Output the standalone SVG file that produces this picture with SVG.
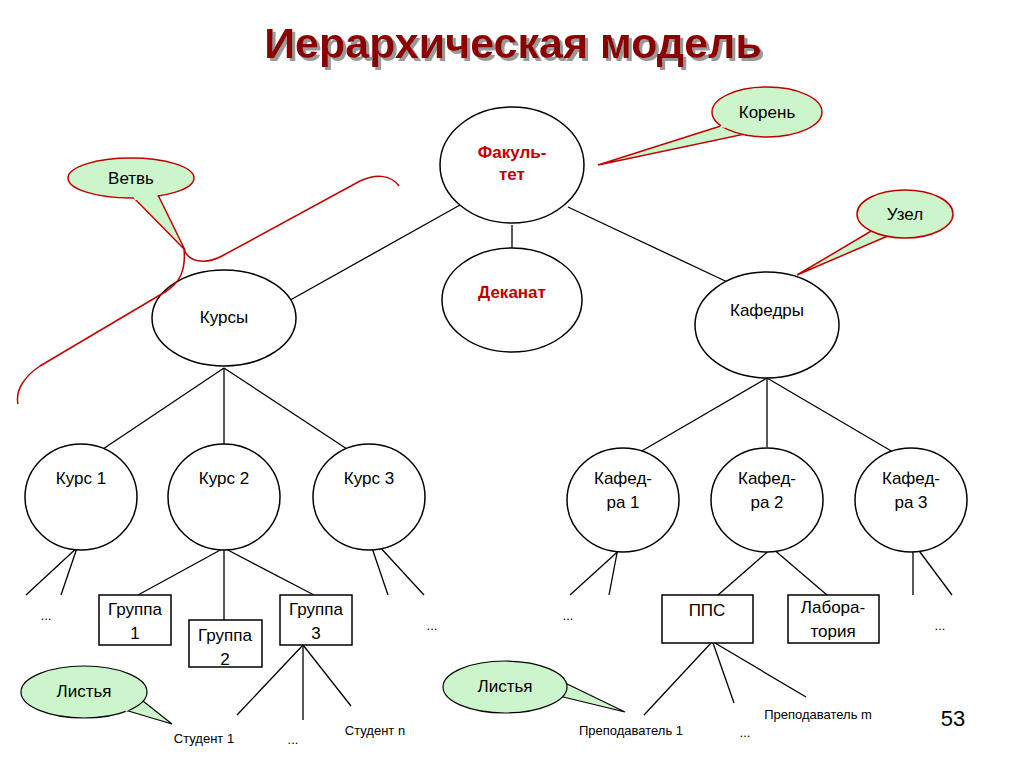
<svg xmlns="http://www.w3.org/2000/svg" width="1024" height="767" viewBox="0 0 1024 767">
<defs><filter id="sh" x="-5%" y="-20%" width="110%" height="140%"><feDropShadow dx="3" dy="3" stdDeviation="0.5" flood-color="#999"/></filter></defs>
<style>
.n{fill:#fff;stroke:#000;stroke-width:1.5}
.t{font-family:"Liberation Sans",Arial,sans-serif;font-size:17px;text-anchor:middle;fill:#000}
.r{fill:#c00000;font-weight:bold}
.s{font-size:13px}
.c{fill:#ccf5cc;stroke:#c00000;stroke-width:1.5}
.cd{fill:#ccf5cc;stroke:#000;stroke-width:1.2}
.f{fill:#ccf5cc;stroke:none}
#edges line{stroke:#000;stroke-width:1.3}
</style>
<rect width="1024" height="767" fill="#fff"/>
<text x="513" y="58" class="t" filter="url(#sh)" style="font-size:43px;font-weight:bold;fill:#8b0000">Иерархическая модель</text>
<g id="edges">
<line x1="460" y1="205" x2="285" y2="303"/><line x1="512" y1="225" x2="512" y2="255"/><line x1="568" y1="207" x2="738" y2="287"/>
<line x1="224" y1="368" x2="100" y2="451"/><line x1="224" y1="368" x2="224" y2="444"/><line x1="224" y1="368" x2="350" y2="451"/>
<line x1="767" y1="378" x2="640" y2="452"/><line x1="767" y1="378" x2="767" y2="447"/><line x1="767" y1="378" x2="893" y2="452"/>
<line x1="80" y1="545" x2="26" y2="595"/><line x1="77" y1="548" x2="61" y2="595"/>
<line x1="224" y1="548" x2="138" y2="595"/><line x1="224" y1="548" x2="224" y2="620"/><line x1="224" y1="548" x2="314" y2="595"/>
<line x1="372" y1="548" x2="388" y2="595"/><line x1="378" y1="545" x2="424" y2="595"/>
<line x1="303" y1="645" x2="237" y2="715"/><line x1="303" y1="645" x2="303" y2="720"/><line x1="303" y1="645" x2="351" y2="706"/>
<line x1="625" y1="545" x2="570" y2="595"/><line x1="618" y1="548" x2="609" y2="595"/>
<line x1="772" y1="548" x2="718" y2="595"/><line x1="772" y1="548" x2="827" y2="595"/>
<line x1="913" y1="548" x2="913" y2="595"/><line x1="917" y1="548" x2="952" y2="595"/>
<line x1="711" y1="643" x2="644" y2="715"/><line x1="713" y1="643" x2="734" y2="703"/><line x1="715" y1="643" x2="806" y2="697"/>
</g>
<g id="fak"><ellipse class="n" cx="512" cy="165" rx="72" ry="58"/><text class="t r" x="512" y="158">Факуль-</text><text class="t r" x="512" y="180">тет</text></g>
<g id="dek"><ellipse class="n" cx="512" cy="300" rx="70" ry="52"/><text class="t r" x="512" y="298">Деканат</text></g>
<g id="kursy"><ellipse class="n" cx="224" cy="318" rx="72" ry="48"/><text class="t" x="224" y="323">Курсы</text></g>
<g id="kafedry"><ellipse class="n" cx="767" cy="325" rx="72" ry="53"/><text class="t" x="767" y="316">Кафедры</text></g>
<g id="k1"><ellipse class="n" cx="81" cy="497" rx="56" ry="53"/><text class="t" x="81" y="484">Курс 1</text></g>
<g id="k2"><ellipse class="n" cx="224" cy="497" rx="56" ry="53"/><text class="t" x="224" y="484">Курс 2</text></g>
<g id="k3"><ellipse class="n" cx="369" cy="497" rx="56" ry="53"/><text class="t" x="369" y="484">Курс 3</text></g>
<g id="kf1"><ellipse class="n" cx="623" cy="500" rx="56" ry="52"/><text class="t" x="623" y="484">Кафед-</text><text class="t" x="623" y="508">ра 1</text></g>
<g id="kf2"><ellipse class="n" cx="767" cy="500" rx="56" ry="52"/><text class="t" x="767" y="484">Кафед-</text><text class="t" x="767" y="508">ра 2</text></g>
<g id="kf3"><ellipse class="n" cx="911" cy="500" rx="56" ry="52"/><text class="t" x="911" y="484">Кафед-</text><text class="t" x="911" y="508">ра 3</text></g>
<g id="g1"><rect class="n" x="99" y="595" width="72" height="50"/><text class="t" x="135" y="615">Группа</text><text class="t" x="135" y="639">1</text></g>
<g id="g2"><rect class="n" x="189" y="620" width="73" height="47"/><text class="t" x="225" y="641">Группа</text><text class="t" x="225" y="665">2</text></g>
<g id="g3"><rect class="n" x="280" y="595" width="72" height="50"/><text class="t" x="316" y="615">Группа</text><text class="t" x="316" y="639">3</text></g>
<g id="pps"><rect class="n" x="662" y="595" width="91" height="48"/><text class="t" x="707" y="616">ППС</text></g>
<g id="lab"><rect class="n" x="788" y="595" width="91" height="48"/><text class="t" x="833" y="613">Лабора-</text><text class="t" x="833" y="637">тория</text></g>
<g id="leaves">
<text class="t s" x="46" y="620">...</text><text class="t s" x="432" y="630">...</text>
<text class="t s" x="568" y="620">...</text><text class="t s" x="940" y="630">...</text>
<text class="t s" x="204" y="743">Студент 1</text><text class="t s" x="293" y="744">...</text><text class="t s" x="375" y="735">Студент n</text>
<text class="t s" x="631" y="735">Преподаватель 1</text><text class="t s" x="745" y="737">...</text><text class="t s" x="818" y="719">Преподаватель m</text>
<text class="t" x="953" y="726" style="font-size:22px">53</text>
</g>
<path d="M399,186 C390,174 375,174 360,181 L222,256 C205,265 188,262 184,249 C186,270 180,283 165,292 L40,366 C25,376 15,390 18,404" fill="none" stroke="#c00000" stroke-width="1.5"/>
<g id="c-koren"><path class="c" d="M727,124 L598,165 L745,134 Z"/><ellipse class="c" cx="767" cy="112" rx="55" ry="25"/><path class="f" d="M725,120 L720,127 L750,132 L748,127 Z"/><text class="t" x="767" y="118">Корень</text></g>
<g id="c-uzel"><path class="c" d="M878,227 L797,275 L890,235 Z"/><ellipse class="c" cx="905" cy="214" rx="48" ry="24"/><path class="f" d="M876,224 L874,231 L893,235 L893,229 Z"/><text class="t" x="905" y="220">Узел</text></g>
<g id="c-vetv"><path class="c" d="M133,197 L185,250 L158,195 Z"/><ellipse class="c" cx="131" cy="178" rx="63" ry="20"/><path class="f" d="M131,193 L135,200 L158,199 L157,192 Z"/><text class="t" x="131" y="184">Ветвь</text></g>
<g id="c-l1"><path class="cd" d="M125,710 L172,724 L138,697 Z"/><ellipse class="cd" cx="84" cy="692" rx="63" ry="26"/><path class="f" d="M122,706 L126,712 L140,702 L134,697 Z"/><text class="t" x="84" y="697">Листья</text></g>
<g id="c-l2"><path class="cd" d="M555,695 L625,712 L563,682 Z"/><ellipse class="cd" cx="505" cy="687" rx="62" ry="26"/><path class="f" d="M552,692 L553,698 L566,690 L563,682 Z"/><text class="t" x="505" y="692">Листья</text></g>
</svg>
